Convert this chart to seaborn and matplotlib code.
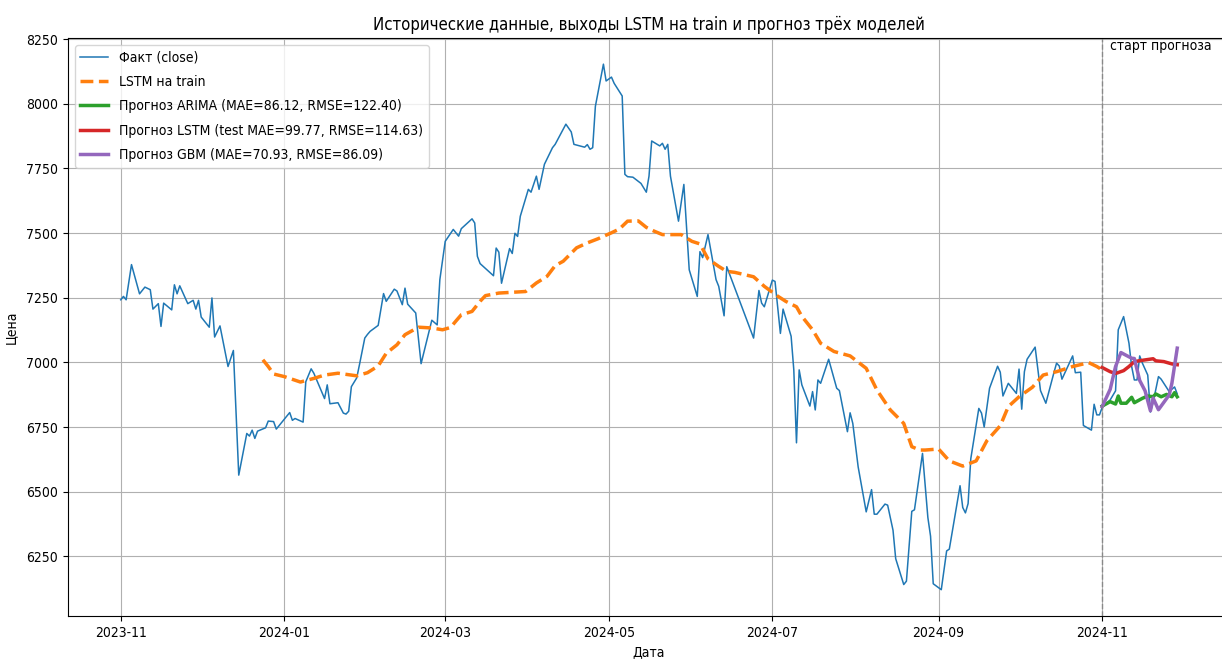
import pandas as pd
import matplotlib
matplotlib.use('Agg')
import matplotlib.pyplot as plt
import matplotlib.dates as mdates
import seaborn as sns

plt.rcParams['font.family'] = ['DejaVu Sans']
plt.rcParams['font.stretch'] = 'condensed'

start = pd.Timestamp('2023-11-01')
forecast_start = pd.Timestamp('2024-11-01')

# дни от 2023-11-01 и цены закрытия
fact_days = [0, 1, 2, 4, 7, 9, 11, 12, 14, 15, 16, 19, 20, 21, 22, 25, 27, 28, 29, 30,
             33, 34, 35, 37, 40, 42, 44, 47, 48, 49, 50, 51, 54, 55, 57, 58, 63, 64, 65, 68,
             69, 71, 72, 76, 77, 78, 81, 83, 84, 85, 86, 88, 89, 91, 92, 93, 96, 98, 99, 102,
             103, 105, 106, 107, 110, 112, 116, 118, 119, 121, 124, 126, 127, 131, 132, 133, 134, 139, 140, 141,
             142, 145, 146, 147, 148, 149, 152, 153, 155, 156, 158, 161, 162, 166, 168, 169, 173, 174, 175, 176,
             177, 180, 181, 183, 184, 187, 188, 189, 191, 194, 196, 197, 198, 201, 202, 203, 204, 205, 208, 210,
             212, 215, 216, 217, 219, 222, 223, 225, 226, 236, 238, 239, 240, 243, 244, 246, 247, 250, 251, 252,
             253, 254, 257, 258, 259, 260, 261, 264, 267, 268, 271, 272, 273, 275, 278, 280, 281, 282, 285, 286,
             288, 289, 292, 293, 295, 296, 299, 301, 302, 303, 306, 308, 309, 313, 314, 315, 316, 317, 320, 321,
             322, 324, 327, 328, 329, 331, 334, 335, 336, 337, 338, 341, 343, 345, 348, 349, 350, 351, 355, 356,
             358, 359, 362, 363, 364, 365, 366, 369, 371, 372, 374, 376, 377, 378, 379, 380, 381, 383, 384, 385,
             387, 388, 391, 393, 394]
fact_close = [7242, 7255, 7242, 7378, 7265, 7291, 7281, 7206, 7227, 7139, 7229, 7203, 7300, 7265, 7296, 7227, 7240, 7206, 7240, 7175,
              7136, 7249, 7098, 7141, 6984, 7046, 6564, 6725, 6715, 6738, 6706, 6734, 6747, 6773, 6771, 6742, 6806, 6776, 6783, 6769,
              6925, 6975, 6958, 6860, 6913, 6840, 6844, 6804, 6800, 6811, 6906, 6940, 6990, 7094, 7108, 7120, 7143, 7266, 7236, 7283,
              7276, 7223, 7287, 7225, 7191, 6995, 7163, 7145, 7320, 7468, 7514, 7488, 7517, 7555, 7539, 7410, 7382, 7335, 7442, 7426,
              7306, 7440, 7421, 7499, 7487, 7565, 7669, 7658, 7720, 7669, 7766, 7830, 7843, 7921, 7891, 7843, 7832, 7842, 7824, 7830,
              7990, 8153, 8088, 8103, 8079, 8030, 7727, 7718, 7716, 7692, 7658, 7720, 7856, 7837, 7847, 7824, 7843, 7720, 7546, 7688,
              7358, 7255, 7428, 7405, 7494, 7320, 7294, 7180, 7370, 7094, 7278, 7229, 7215, 7318, 7313, 7112, 7206, 7101, 6971, 6689,
              6971, 6913, 6831, 6887, 6816, 6932, 6919, 7012, 6900, 6891, 6732, 6805, 6764, 6596, 6422, 6508, 6413, 6413, 6452, 6448,
              6351, 6241, 6141, 6154, 6424, 6430, 6648, 6400, 6328, 6144, 6121, 6271, 6278, 6523, 6439, 6418, 6454, 6627, 6822, 6804,
              6750, 6900, 6985, 6962, 6870, 6919, 6880, 6974, 6819, 6964, 7012, 7059, 6891, 6842, 6960, 6997, 6986, 6935, 7025, 6960,
              6962, 6756, 6738, 6838, 6797, 6797, 6826, 6855, 6890, 7126, 7177, 7074, 6984, 6932, 6932, 7025, 6997, 6951, 6808, 6845,
              6945, 6935, 6887, 6905, 6878]

# LSTM на train
lstm_train_days = [53, 55, 57, 61, 67, 72, 76, 81, 88, 92, 96, 99, 103, 106, 111, 116, 120, 123, 125, 127,
                   131, 134, 136, 141, 151, 155, 159, 162, 165, 170, 174, 178, 183, 186, 189, 193, 196, 199, 202, 209,
                   213, 216, 219, 223, 226, 229, 236, 240, 245, 248, 252, 254, 258, 261, 266, 272, 278, 282, 287, 292,
                   295, 298, 300, 305, 309, 314, 319, 323, 328, 331, 335, 340, 344, 349, 355, 361, 364, 366]
lstm_train = [7010, 6984, 6955, 6945, 6924, 6938, 6951, 6958, 6948, 6960, 6986, 7035, 7068, 7107, 7136, 7133, 7126, 7135, 7160, 7184,
              7197, 7236, 7258, 7268, 7274, 7307, 7333, 7374, 7391, 7443, 7462, 7478, 7501, 7516, 7546, 7547, 7522, 7507, 7494, 7494,
              7468, 7458, 7400, 7371, 7352, 7348, 7331, 7294, 7256, 7236, 7215, 7178, 7126, 7074, 7042, 7025, 6977, 6893, 6816, 6764,
              6674, 6661, 6661, 6665, 6619, 6599, 6619, 6697, 6755, 6829, 6867, 6904, 6951, 6964, 6984, 6999, 6984, 6971]

# прогнозы
arima_days = [366, 369, 371, 372, 373, 375, 377, 378, 381, 383, 385, 386, 388, 390, 392, 393, 394]
arima_fc = [6831, 6848, 6839, 6870, 6842, 6842, 6865, 6844, 6861, 6870, 6867, 6878, 6867, 6876, 6867, 6883, 6867]

lstm_days = [366, 369, 371, 374, 376, 378, 381, 385, 386, 389, 392, 394]
lstm_fc = [6980, 6964, 6957, 6968, 6984, 7003, 7008, 7014, 7006, 7003, 6994, 6991]

gbm_days = [366, 369, 371, 373, 377, 378, 380, 382, 384, 385, 387, 391, 392, 394]
gbm_fc = [6829, 6896, 6984, 7038, 7016, 7015, 6930, 6890, 6813, 6862, 6817, 6874, 6919, 7055]


def to_dates(days):
    return start + pd.to_timedelta(days, unit='D')


fig = plt.figure(figsize=(12.22, 6.66), dpi=100)
ax = fig.add_axes([0.0556, 0.0751, 0.951, 0.868])

sns.lineplot(x=to_dates(fact_days), y=fact_close, ax=ax, color='tab:blue', linewidth=1.1,
             label='Факт (close)')
sns.lineplot(x=to_dates(lstm_train_days), y=lstm_train, ax=ax, color='tab:orange', linewidth=2.5,
             linestyle='--', label='LSTM на train')
sns.lineplot(x=to_dates(arima_days), y=arima_fc, ax=ax, color='tab:green', linewidth=2.5,
             label='Прогноз ARIMA (MAE=86.12, RMSE=122.40)')
sns.lineplot(x=to_dates(lstm_days), y=lstm_fc, ax=ax, color='tab:red', linewidth=2.5,
             label='Прогноз LSTM (test MAE=99.77, RMSE=114.63)')
sns.lineplot(x=to_dates(gbm_days), y=gbm_fc, ax=ax, color='tab:purple', linewidth=2.5,
             label='Прогноз GBM (MAE=70.93, RMSE=86.09)')

ax.axvline(forecast_start, color='gray', linestyle='--', linewidth=1, alpha=0.8)
ax.annotate('старт прогноза', xy=(forecast_start, ax.get_ylim()[1]), xytext=(6, -1),
            textcoords='offset points', ha='left', va='top', fontsize=10)

ax.xaxis.set_major_locator(mdates.MonthLocator(bymonth=[1, 3, 5, 7, 9, 11]))
ax.xaxis.set_major_formatter(mdates.DateFormatter('%Y-%m'))

ax.set_title('Исторические данные, выходы LSTM на train и прогноз трёх моделей', fontsize=12)
ax.set_xlabel('Дата')
ax.set_ylabel('Цена', labelpad=6)
ax.grid(True)
ax.legend(loc='upper left', labelspacing=0.75)

plt.savefig('out.png', dpi=100)
